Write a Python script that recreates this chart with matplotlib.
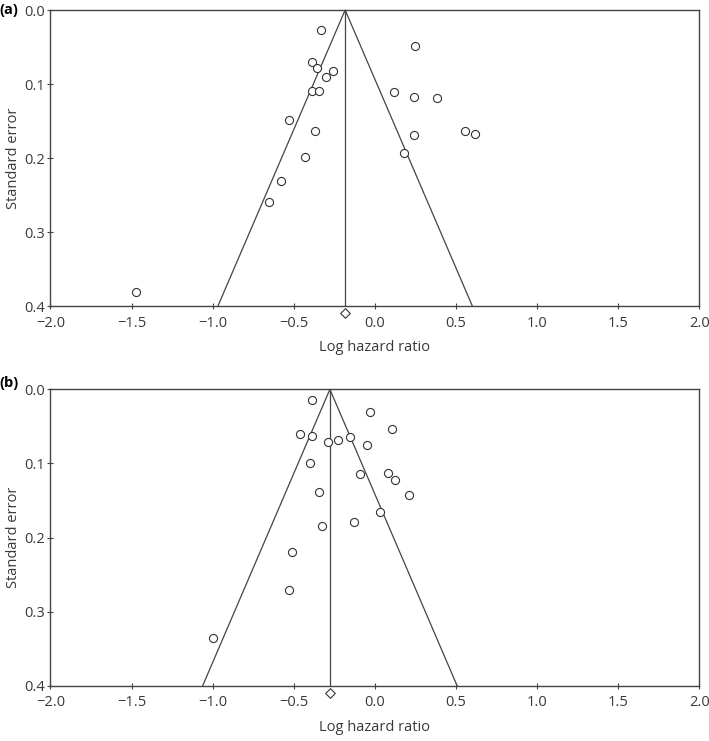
import numpy as np
import matplotlib
matplotlib.use("Agg")
import matplotlib.pyplot as plt

plt.rcParams['font.family'] = ['Open Sans', 'DejaVu Sans']

# panel (a): log hazard ratio / standard error per study
a_lhr = [-0.332, 0.246, -0.388, -0.357, -0.260, -0.304, -0.388, -0.343, 0.118, 0.238,
         0.384, -0.528, -0.372, 0.238, 0.554, 0.619, 0.180, -0.431, -0.581, -0.656, -1.472]
a_se = [0.027, 0.048, 0.070, 0.079, 0.082, 0.091, 0.110, 0.110, 0.111, 0.117,
        0.119, 0.148, 0.163, 0.169, 0.164, 0.167, 0.193, 0.198, 0.231, 0.260, 0.381]
a_pooled = -0.184

# panel (b)
b_lhr = [-0.388, -0.032, 0.104, -0.464, -0.386, -0.291, -0.227, -0.151, -0.052, -0.402,
         -0.095, 0.078, 0.123, 0.207, -0.345, 0.031, -0.329, -0.129, -0.512, -0.527, -0.996]
b_se = [0.014, 0.031, 0.053, 0.060, 0.063, 0.071, 0.069, 0.065, 0.075, 0.099,
        0.114, 0.113, 0.122, 0.143, 0.139, 0.166, 0.184, 0.179, 0.219, 0.271, 0.336]
b_pooled = -0.278

se_max = 0.4
x_ticks = [-2.0, -1.5, -1.0, -0.5, 0.0, 0.5, 1.0, 1.5, 2.0]
y_ticks = [0.0, 0.1, 0.2, 0.3, 0.4]

line_col = '#444444'
text_col = '#3a3a3a'


def funnel(ax, lhr, se, pooled, tag, tag_y):
    ax.set_xlim(-2.0, 2.0)
    ax.set_ylim(se_max, 0.0)
    # pseudo 95% confidence limits
    half = 1.96 * se_max
    ax.plot([pooled - half, pooled, pooled + half], [se_max, 0.0, se_max],
            color=line_col, lw=0.9, clip_on=False)
    ax.plot([pooled, pooled], [0.0, se_max], color=line_col, lw=0.9)
    ax.scatter(lhr, se, s=34, facecolors='white', edgecolors='#333333',
               linewidths=0.8, zorder=3)
    ax.scatter([pooled], [0.41], marker='D', s=24, facecolors='white',
               edgecolors='#333333', linewidths=0.8, clip_on=False, zorder=3)

    ax.set_xticks(x_ticks)
    ax.set_xticklabels([f'{v:.1f}'.replace('-', '\u2212') for v in x_ticks])
    ax.set_yticks(y_ticks)
    ax.set_yticklabels([f'{v:.1f}' for v in y_ticks])
    ax.tick_params(direction='inout', length=4, width=0.8, colors=line_col,
                   labelcolor=text_col, labelsize=10.5)
    ax.tick_params(axis='x', pad=5)
    ax.tick_params(axis='y', pad=2)
    for sp in ax.spines.values():
        sp.set_color(line_col)
        sp.set_linewidth(1.0)
    ax.set_xlabel('Log hazard ratio', fontsize=10.5, color=text_col, labelpad=7)
    ax.set_ylabel('Standard error', fontsize=10.5, color=text_col, labelpad=2)
    ax.text(-0.078, tag_y, tag, transform=ax.transAxes, fontsize=10.5,
            fontweight='bold', ha='left', va='center', color='black')


fig = plt.figure(figsize=(7.09, 7.41), dpi=100)
ax_a = fig.add_axes([0.0712, 0.587, 0.9154, 0.3995])
ax_b = fig.add_axes([0.0712, 0.0746, 0.9154, 0.400])

funnel(ax_a, a_lhr, a_se, a_pooled, '(a)', 1.0)
funnel(ax_b, b_lhr, b_se, b_pooled, '(b)', 1.022)

fig.savefig('out.png', dpi=100)
